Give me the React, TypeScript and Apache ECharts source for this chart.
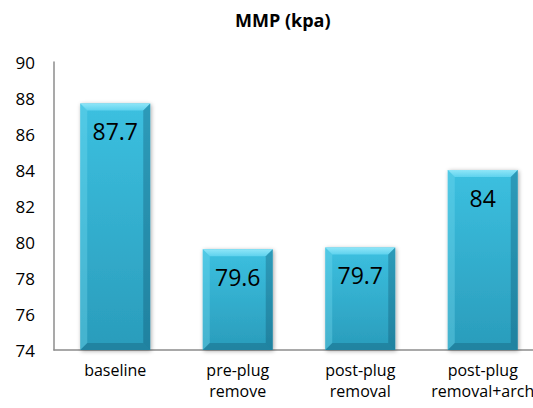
import React, { useEffect, useRef } from "react";
import * as echarts from "echarts";

const categories = ["baseline", "pre-plug\nremove", "post-plug\nremoval", "post-plug\nremoval+arch"];
const values = [87.7, 79.6, 79.7, 84];
const yMin = 74;
const yMax = 90;
const yInterval = 2;
const titleText = "MMP (kpa)";

const FONT = "'Open Sans', sans-serif";
const BAR_W = 70;

export default function App() {
  const ref = useRef<HTMLDivElement>(null);
  useEffect(() => {
    if (!ref.current) return;
    const chart = echarts.init(ref.current, undefined, { renderer: "svg" });
    const bevel = 7;
    chart.setOption({
      animation: false,
      backgroundColor: "#ffffff",
      title: {
        text: titleText,
        left: 230,
        top: 6,
        textStyle: { fontFamily: FONT, fontWeight: "bold", fontSize: 18, color: "#000" },
      },
      grid: { left: 54, right: -11, top: 62, bottom: 58, containLabel: false, outerBoundsMode: "none" },
      xAxis: {
        type: "category",
        data: categories,
        axisLine: { show: true, lineStyle: { color: "#8c8c8c", width: 1.5 } },
        axisTick: { show: false },
        axisLabel: {
          fontFamily: FONT,
          fontSize: 16,
          lineHeight: 21,
          color: "#000",
          margin: 9,
          interval: 0,
        },
      },
      yAxis: {
        type: "value",
        min: yMin,
        max: yMax,
        interval: yInterval,
        axisLine: { show: true, lineStyle: { color: "#8c8c8c", width: 1.5 } },
        axisTick: { show: false },
        splitLine: { show: false },
        axisLabel: { fontFamily: FONT, fontSize: 17, color: "#000", margin: 19 },
      },
      series: [
        {
          type: "bar",
          data: values,
          barWidth: BAR_W,
          itemStyle: {
            color: new echarts.graphic.LinearGradient(0, 0, 0, 1, [
              { offset: 0, color: "#3cc0e0" },
              { offset: 1, color: "#2a9cbb" },
            ]),
            shadowColor: "rgba(0,0,0,0.35)",
            shadowBlur: 4,
            shadowOffsetX: 1,
            shadowOffsetY: 1,
          },
          label: {
            show: true,
            position: "insideTop",
            distance: 16,
            fontFamily: FONT,
            fontSize: 23,
            color: "#000",
          },
          z: 2,
        },
        {
          type: "custom",
          data: values.map((v, i) => [i, v]),
          z: 3,
          silent: true,
          renderItem: (params: any, api: any) => {
            const top = api.coord([api.value(0), api.value(1)]);
            const base = api.coord([api.value(0), yMin]);
            const x0 = top[0] - BAR_W / 2;
            const x1 = top[0] + BAR_W / 2;
            const y0 = top[1];
            const y1 = base[1];
            return {
              type: "group",
              children: [
                {
                  type: "polygon",
                  shape: { points: [[x0, y0], [x1, y0], [x1 - bevel, y0 + bevel], [x0 + bevel, y0 + bevel]] },
                  style: {
                    fill: new echarts.graphic.LinearGradient(0, 0, 0, 1, [
                      { offset: 0, color: "#8fe6f8" },
                      { offset: 1, color: "#5fd2ee" },
                    ]),
                  },
                },
                {
                  type: "polygon",
                  shape: { points: [[x0, y0], [x0 + bevel, y0 + bevel], [x0 + bevel, y1 - bevel], [x0, y1]] },
                  style: { fill: "rgba(120,220,240,0.35)" },
                },
                {
                  type: "polygon",
                  shape: { points: [[x1, y0], [x1 - bevel, y0 + bevel], [x1 - bevel, y1 - bevel], [x1, y1]] },
                  style: { fill: "rgba(10,70,95,0.3)" },
                },
                {
                  type: "polygon",
                  shape: { points: [[x0, y1], [x0 + bevel, y1 - bevel], [x1 - bevel, y1 - bevel], [x1, y1]] },
                  style: { fill: "rgba(10,70,95,0.28)" },
                },
              ],
            };
          },
        },
      ],
    });
    return () => chart.dispose();
  }, []);
  return <div ref={ref} style={{ width: 533, height: 408, position: "absolute", left: 0, top: 0 }} />;
}
